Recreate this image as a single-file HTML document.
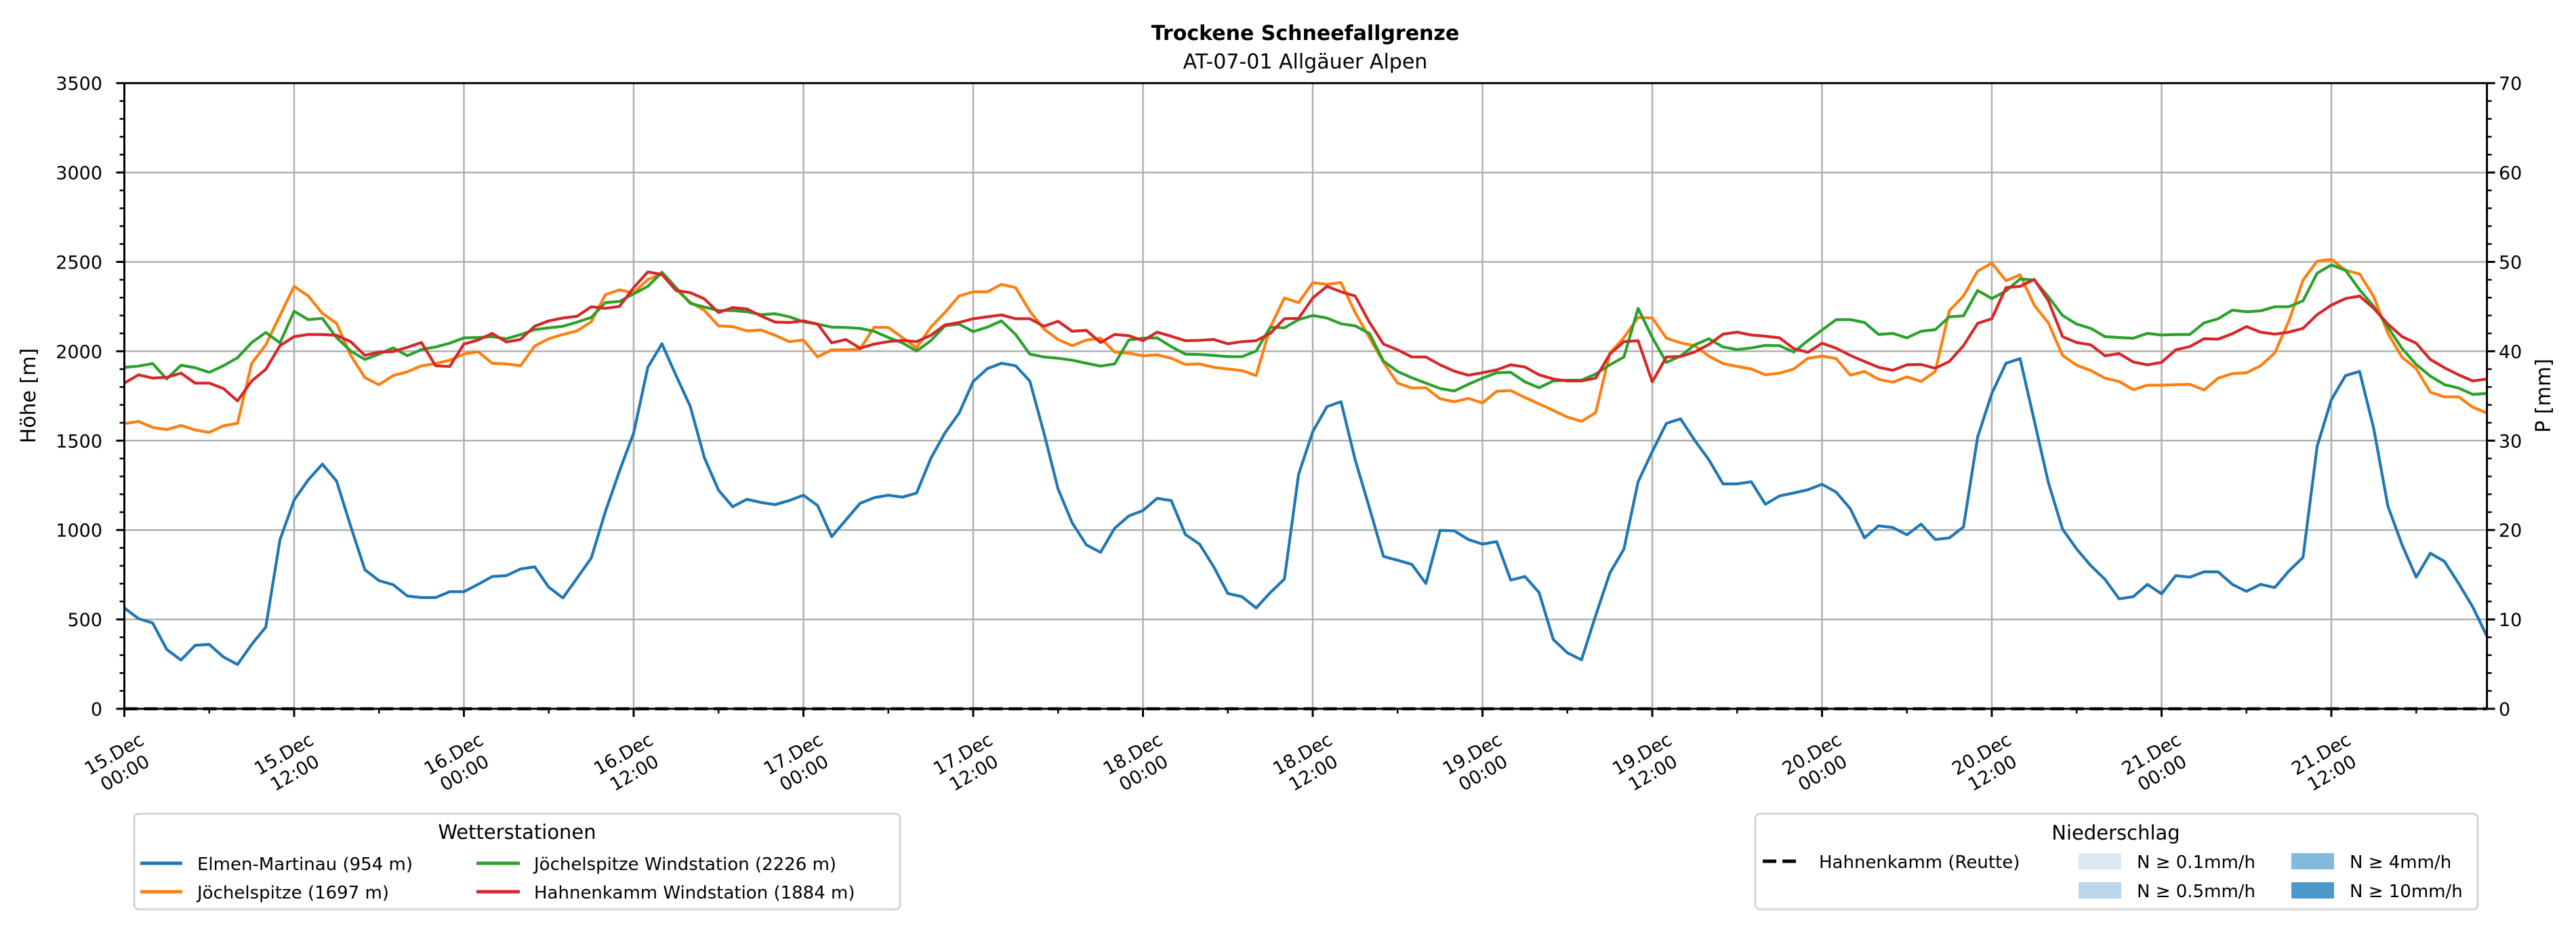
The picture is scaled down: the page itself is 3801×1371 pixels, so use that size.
<!DOCTYPE html>
<html><head><meta charset="utf-8"><title>Trockene Schneefallgrenze</title>
<style>
html,body{margin:0;padding:0;background:#fff;}
svg{display:block;font-family:"DejaVu Sans","Liberation Sans",sans-serif;}
</style></head>
<body>
<svg id="chart" xmlns="http://www.w3.org/2000/svg" width="3801" height="1371" viewBox="0 0 3801 1371">
<rect width="3801" height="1371" fill="#fff"/>
<text x="1926" y="59" font-size="30" font-weight="bold" text-anchor="middle">Trockene Schneefallgrenze</text>
<text x="1926" y="101" font-size="30" text-anchor="middle">AT-07-01 Allgäuer Alpen</text>
<g id="grid"></g>
<g id="series"></g>
<g id="axes"></g>
<text transform="translate(52,584) rotate(-90)" font-size="30" text-anchor="middle">Höhe [m]</text>
<text transform="translate(3763,584) rotate(-90)" font-size="30" text-anchor="middle">P [mm]</text>

<g>
<rect x="198" y="1201" width="1130" height="141" rx="7" fill="#fff" stroke="#d4d4d4" stroke-width="3"/>
<text x="763" y="1238" font-size="29" text-anchor="middle">Wetterstationen</text>
<g><line x1="207" y1="1274" x2="269" y2="1274" stroke="#1f77b4" stroke-width="5"/><text x="291" y="1284" font-size="26">Elmen-Martinau (954 m)</text></g>
<g><line x1="207" y1="1316" x2="269" y2="1316" stroke="#ff7f0e" stroke-width="5"/><text x="291" y="1326" font-size="26">Jöchelspitze (1697 m)</text></g>
<g><line x1="703" y1="1274" x2="767" y2="1274" stroke="#2ca02c" stroke-width="5"/><text x="788" y="1284" font-size="26">Jöchelspitze Windstation (2226 m)</text></g>
<g><line x1="703" y1="1316" x2="767" y2="1316" stroke="#d62728" stroke-width="5"/><text x="788" y="1326" font-size="26">Hahnenkamm Windstation (1884 m)</text></g>
</g>

<g>
<rect x="2590" y="1201" width="1066" height="141" rx="7" fill="#fff" stroke="#d4d4d4" stroke-width="3"/>
<text x="3122" y="1239" font-size="29" text-anchor="middle">Niederschlag</text>
<g><line x1="2601" y1="1271" x2="2659" y2="1271" stroke="#000" stroke-width="5" stroke-dasharray="20,9"/><text x="2684" y="1281" font-size="26">Hahnenkamm (Reutte)</text></g>
<g><rect x="3067" y="1259" width="63" height="24" fill="#dae8f5"/><text x="3153" y="1281" font-size="26">N ≥ 0.1mm/h</text></g>
<g><rect x="3067" y="1302" width="63" height="24" fill="#bad6eb"/><text x="3153" y="1324" font-size="26">N ≥ 0.5mm/h</text></g>
<g><rect x="3381" y="1259" width="63" height="24" fill="#82badb"/><text x="3467" y="1281" font-size="26">N ≥ 4mm/h</text></g>
<g><rect x="3381" y="1302" width="63" height="24" fill="#4b98ca"/><text x="3467" y="1324" font-size="26">N ≥ 10mm/h</text></g>
</g>
</svg>
<script>
const hours = Array.from({length:168},(_,i)=>i);
const elmen = [564,504,480,332,272,355,360,290,248,360,457,945,1167,1281,1369,1274,1021,778,717,694,631,622,622,655,655,696,740,745,782,794,
680,620,731,843,1102,1330,1543,1910,2042,1864,1692,1404,1223,1130,1172,1154,1142,1165,1195,1137,963,1056,1149,1181,1195,1184,1207,1400,1543,
1653,1831,1903,1933,1919,1834,1543,1230,1040,917,875,1010,1079,1109,1177,1165,975,921,794,645,627,564,650,726,1311,1550,1690,1718,
1393,1126,852,831,808,701,998,996,947,921,935,720,740,650,388,313,274,522,759,894,1270,1439,1597,1622,1502,1393,1258,1258,1270,1144,
1191,1207,1225,1256,1212,1119,956,1024,1014,973,1033,947,956,1017,1520,1764,1933,1959,1613,1265,1005,894,801,724,615,627,696,643,745,
736,766,766,696,657,696,678,771,847,1469,1729,1864,1887,1567,1133,917,736,870,824,701,569,406];
const joechel = [1595,1608,1574,1562,1585,1560,1546,1583,1597,1933,2036,2200,2363,2309,2212,2156,1977,1852,1813,1864,1885,1919,1931,1950,1984,1998,1933,1929,1919,2029,
2070,2094,2114,2165,2316,2344,2326,2402,2432,2344,2275,2228,2142,2138,2114,2119,2089,2054,2063,1968,2008,2008,2012,2135,2133,2077,2019,2135,2217,
2309,2333,2333,2374,2356,2224,2124,2066,2031,2063,2073,1996,1989,1975,1980,1961,1926,1929,1910,1901,1892,1864,2135,2298,2272,2384,2374,2384,
2217,2077,1938,1822,1794,1796,1734,1718,1736,1711,1776,1780,1741,1706,1669,1632,1608,1657,1989,2077,2189,2186,2073,2047,2031,1973,1931,1915,1901,1868,
1878,1901,1961,1973,1959,1866,1887,1843,1827,1857,1831,1887,2228,2309,2449,2493,2395,2428,2258,2159,1977,1922,1892,1850,1831,1785,1810,1810,1813,
1815,1783,1850,1875,1880,1919,1991,2170,2398,2504,2514,2453,2432,2305,2100,1966,1903,1771,1745,1745,1687,1655];
const joechelWind = [1910,1917,1931,1845,1922,1908,1882,1919,1964,2049,2105,2047,2224,2177,2184,2077,2001,1954,1984,2019,1975,2010,2024,2045,2075,2077,2082,2070,2093,2121,
2131,2140,2163,2189,2272,2279,2321,2363,2442,2356,2268,2247,2228,2228,2221,2205,2210,2193,2165,2152,2135,2133,2128,2112,2077,2047,2001,2059,2142,
2152,2110,2135,2170,2094,1984,1968,1961,1950,1933,1917,1929,2063,2073,2075,2026,1984,1982,1977,1970,1970,2001,2135,2131,2177,2200,2186,2154,
2142,2100,1945,1887,1852,1822,1792,1778,1815,1850,1880,1882,1829,1796,1834,1838,1838,1873,1924,1968,2240,2077,1938,1973,2036,2070,2024,2010,2019,2033,
2031,1996,2059,2119,2177,2177,2161,2094,2100,2075,2112,2121,2193,2198,2340,2295,2337,2405,2398,2305,2200,2152,2128,2082,2077,2073,2100,2091,2094,
2094,2159,2182,2230,2221,2226,2249,2249,2282,2437,2483,2453,2344,2251,2135,2015,1926,1861,1813,1794,1759,1764];
const hahnenWind = [1822,1868,1850,1854,1878,1822,1822,1792,1722,1834,1899,2031,2082,2094,2094,2089,2054,1977,1996,1998,2022,2049,1919,1915,2040,2063,2100,2052,2066,2140,
2170,2186,2196,2249,2240,2251,2356,2444,2430,2340,2328,2293,2217,2244,2237,2198,2163,2161,2170,2152,2047,2066,2017,2040,2054,2061,2054,2089,2147,
2161,2182,2193,2203,2182,2182,2140,2168,2112,2117,2049,2094,2087,2059,2107,2084,2059,2061,2066,2042,2054,2059,2100,2182,2184,2298,2363,2333,
2309,2163,2040,2008,1968,1968,1924,1889,1866,1880,1896,1924,1912,1868,1845,1834,1834,1850,1984,2054,2059,1829,1968,1971,1996,2038,2096,2107,2091,2084,
2075,2015,1994,2045,2017,1977,1943,1910,1894,1924,1926,1905,1943,2031,2156,2182,2356,2363,2402,2282,2082,2049,2036,1975,1987,1940,1924,1938,2008,
2026,2070,2068,2098,2138,2107,2096,2107,2128,2205,2258,2295,2309,2240,2152,2082,2045,1954,1908,1868,1834,1845];
const precipHahnenkamm = new Array(168).fill(0);
const yTicks = [0,500,1000,1500,2000,2500,3000,3500];
const y2Ticks = [0,10,20,30,40,50,60,70];
const xTickDays = ["15.Dec","15.Dec","16.Dec","16.Dec","17.Dec","17.Dec","18.Dec","18.Dec","19.Dec","19.Dec","20.Dec","20.Dec","21.Dec","21.Dec"];
const xTickTimes = ["00:00","12:00","00:00","12:00","00:00","12:00","00:00","12:00","00:00","12:00","00:00","12:00","00:00","12:00"];

const NS="http://www.w3.org/2000/svg";
const L=183.5,R=3669.6,T=122.7,B=1046;
const XMAX=167,YMAX=3500,Y2MAX=70;
const x=h=>L+h*(R-L)/XMAX;
const y=v=>B-v*(B-T)/YMAX;
const y2=p=>B-p*(B-T)/Y2MAX;
function mk(tag,attrs,parent){const e=document.createElementNS(NS,tag);for(const k in attrs)e.setAttribute(k,attrs[k]);parent.appendChild(e);return e;}
const grid=document.getElementById('grid'),axes=document.getElementById('axes'),ser=document.getElementById('series');

yTicks.forEach(v=>{
  const g=mk('line',{x1:L,x2:R,y1:y(v),y2:y(v),stroke:'#b0b0b0','stroke-width':2.5},grid);
  
  
});
xTickDays.forEach((d,i)=>{
  const g=mk('line',{x1:x(i*12),x2:x(i*12),y1:T,y2:B,stroke:'#b0b0b0','stroke-width':2.5},grid);
  
  
});

const series=[[elmen,'#1f77b4','line-elmen-martinau'],[joechel,'#ff7f0e','line-joechelspitze'],[joechelWind,'#2ca02c','line-joechelspitze-wind'],[hahnenWind,'#d62728','line-hahnenkamm-wind']];
series.forEach(([d,c,n])=>{
  const p=mk('polyline',{points:d.map((v,i)=>x(hours[i]).toFixed(1)+','+y(v).toFixed(1)).join(' '),fill:'none',stroke:c,'stroke-width':4.2,'stroke-linejoin':'round'},ser);
  
  
});
const pl=mk('polyline',{points:precipHahnenkamm.map((v,i)=>x(hours[i]).toFixed(1)+','+y2(v).toFixed(1)).join(' '),fill:'none',stroke:'#000','stroke-width':4.5,'stroke-dasharray':'20,9'},ser);



const frame=mk('rect',{x:L,y:T,width:R-L,height:B-T,fill:'none',stroke:'#000','stroke-width':3},axes);



for(let v=0;v<=YMAX;v+=100){
  const major=v%500===0;
  mk('line',{x1:L,x2:L-(major?12:7),y1:y(v),y2:y(v),stroke:'#000','stroke-width':major?3:2.5},axes);
}
yTicks.forEach(v=>{
  const t=mk('text',{x:151,y:y(v)+10,'font-size':27,'text-anchor':'end'},axes);
  t.textContent=v;
  
  
});
for(let p=0;p<=Y2MAX;p+=2){
  const major=p%10===0;
  mk('line',{x1:R,x2:R+(major?12:7),y1:y2(p),y2:y2(p),stroke:'#000','stroke-width':major?3:2.5},axes);
}
y2Ticks.forEach(p=>{
  const t=mk('text',{x:3687,y:y2(p)+10,'font-size':27,'text-anchor':'start'},axes);
  t.textContent=p;
  
  
});
for(let h=0;h<=XMAX;h+=6){
  const major=h%12===0;
  mk('line',{x1:x(h),x2:x(h),y1:B,y2:B+(major?12:7),stroke:'#000','stroke-width':major?3:2.5},axes);
}
xTickDays.forEach((d,i)=>{
  const cx=x(i*12)-7,cy=1127;
  const t=mk('text',{transform:`translate(${cx},${cy}) rotate(-30)`,'font-size':27,'text-anchor':'middle'},axes);
  
  
  const a=mk('tspan',{x:0,y:-7},t);a.textContent=d;
  const b=mk('tspan',{x:0,y:25},t);b.textContent=xTickTimes[i];
});
</script>
</body></html>
